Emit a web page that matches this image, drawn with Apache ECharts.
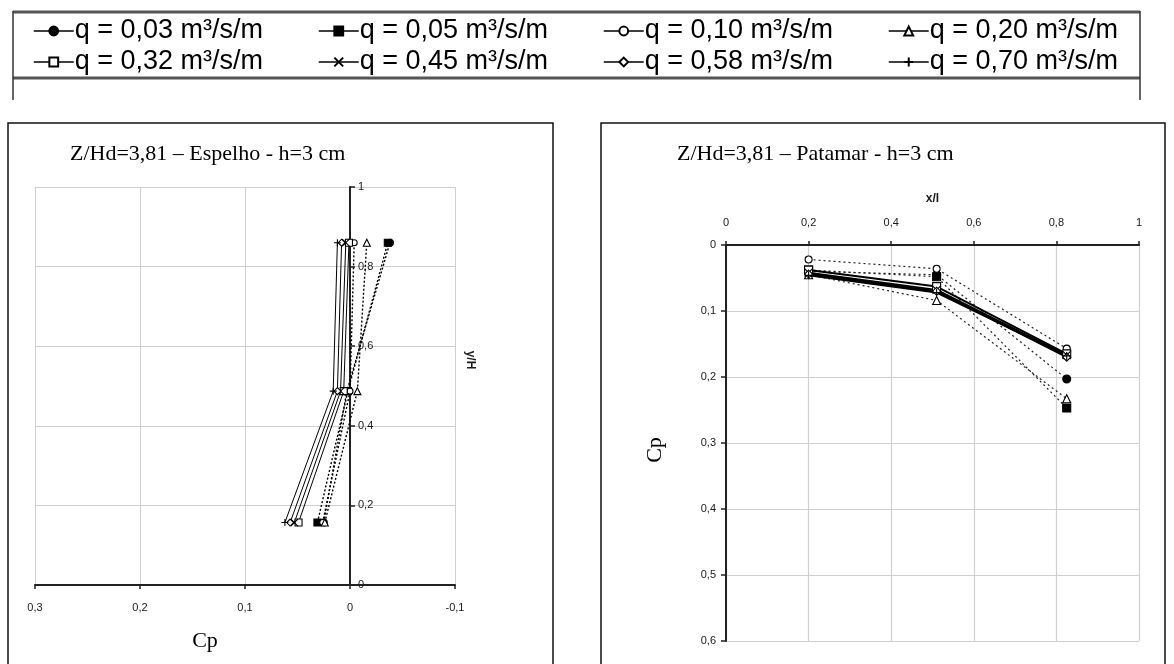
<!DOCTYPE html>
<html>
<head>
<meta charset="utf-8">
<script src="https://cdn.jsdelivr.net/npm/echarts@6/dist/echarts.min.js"></script>
<style>
  html, body { margin: 0; padding: 0; background: #fff; }
  #c { width: 1174px; height: 664px; }
</style>
</head>
<body>
<div id="c"></div>
<script>
// Discharge cases (legend order)
const qLabels = [
  'q = 0,03 m³/s/m', 'q = 0,05 m³/s/m', 'q = 0,10 m³/s/m', 'q = 0,20 m³/s/m',
  'q = 0,32 m³/s/m', 'q = 0,45 m³/s/m', 'q = 0,58 m³/s/m', 'q = 0,70 m³/s/m'
];

// Espelho (riser): relative height y/H of the taps and Cp per discharge
const espelhoY = [0.157, 0.487, 0.86];
const espelhoCp = [
  [0.025, 0.003, -0.038],
  [0.031, 0.002, -0.036],
  [0.026, 0.000, -0.004],
  [0.024, -0.007, -0.016],
  [0.049, 0.006, 0.001],
  [0.053, 0.009, 0.004],
  [0.057, 0.012, 0.008],
  [0.062, 0.016, 0.012]
];

// Patamar (tread): relative position x/l of the taps and Cp per discharge
const patamarX = [0.2, 0.51, 0.825];
const patamarCp = [
  [0.040, 0.045, 0.203],
  [0.038, 0.048, 0.247],
  [0.022, 0.036, 0.157],
  [0.045, 0.084, 0.233],
  [0.038, 0.063, 0.165],
  [0.042, 0.068, 0.167],
  [0.044, 0.070, 0.170],
  [0.046, 0.072, 0.168]
];

// Axis ticks
const espelhoXTicks = [-0.1, 0, 0.1, 0.2, 0.3];
const espelhoYTicks = [0, 0.2, 0.4, 0.6, 0.8, 1];
const patamarXTicks = [0, 0.2, 0.4, 0.6, 0.8, 1];
const patamarYTicks = [0, 0.1, 0.2, 0.3, 0.4, 0.5, 0.6];

// Marker shapes, one per discharge
const crossPath = 'path://M0,0L10,10M10,0L0,10';
const plusPath = 'path://M5,0L5,10M0,5L10,5';
const markers = [
  { symbol: 'circle', fill: '#000' },
  { symbol: 'rect', fill: '#000' },
  { symbol: 'circle', fill: '#fff' },
  { symbol: 'triangle', fill: '#fff' },
  { symbol: 'rect', fill: '#fff' },
  { symbol: crossPath, fill: '#000' },
  { symbol: 'diamond', fill: '#fff' },
  { symbol: plusPath, fill: '#000' }
];

const comma = v => String(+(+v).toFixed(2)).replace('.', ',');
const axisFont = { fontFamily: 'Liberation Sans, Arial, sans-serif', fontSize: 11, color: '#1a1a1a' };
const gridGray = '#cfcfcf';

// Espelho plot area; the y axis is drawn where Cp = 0
const espGrid = { left: 35, top: 187, width: 420, height: 398 };
const xMinE = espelhoXTicks[0], xMaxE = espelhoXTicks[espelhoXTicks.length - 1];
const espYAxisOffset = -espGrid.width * (xMaxE - 0) / (xMaxE - xMinE);

const series = [];
qLabels.forEach((name, i) => {
  const m = markers[i];
  const dotted = i < 4;
  const common = {
    name,
    type: 'line',
    symbol: m.symbol,
    symbolKeepAspect: true,
    itemStyle: { color: m.fill, borderColor: '#000', borderWidth: 1.1 },
    emphasis: { disabled: true },
    animation: false,
    z: dotted ? 3 : 4
  };
  series.push(Object.assign({}, common, {
    xAxisIndex: 0, yAxisIndex: 0,
    symbolSize: m.symbol === 'circle' && m.fill === '#fff' ? 6 : 7,
    lineStyle: { color: '#000', width: dotted ? 1.4 : 1, type: dotted ? [2, 2] : 'solid' },
    data: espelhoCp[i].map((v, k) => [v, espelhoY[k]])
  }));
  series.push(Object.assign({}, common, {
    xAxisIndex: 1, yAxisIndex: 1,
    symbolSize: m.symbol === 'circle' && m.fill === '#fff' ? 7 : 8,
    lineStyle: { color: dotted ? '#222' : '#000', width: dotted ? 1.2 : 2, type: dotted ? [2, 3] : 'solid' },
    data: patamarX.map((x, k) => [x, patamarCp[i][k]])
  }));
});

// One legend block per discharge, four per row
const legendCols = [28, 313, 598, 883];
const legendRows = [12, 43];
const legends = qLabels.map((name, i) => ({
  data: [name],
  left: legendCols[i % 4],
  top: legendRows[Math.floor(i / 4)],
  orient: 'horizontal',
  itemWidth: 40,
  itemHeight: 11,
  itemGap: 0,
  selectedMode: false,
  lineStyle: { type: 'solid', width: 1.5, color: '#000' },
  textStyle: {
    fontFamily: 'Liberation Sans, Arial, sans-serif',
    fontSize: 27, lineHeight: 28, color: '#000', padding: [0, 0, 0, -4]
  }
}));

const chart = echarts.init(document.getElementById('c'), null, { renderer: 'canvas' });
chart.setOption({
  backgroundColor: '#fff',
  animation: false,
  legend: legends,
  grid: [
    espGrid,
    { left: 726, top: 245, width: 413, height: 396 }
  ],
  xAxis: [
    {
      gridIndex: 0, type: 'value', inverse: true,
      min: xMinE, max: xMaxE, interval: 0.1,
      position: 'bottom',
      axisLine: { onZero: false, lineStyle: { color: '#222', width: 2 } },
      axisTick: { show: true, length: 4, lineStyle: { color: '#222', width: 1.5 } },
      axisLabel: Object.assign({ margin: 17, formatter: comma }, axisFont),
      splitLine: { show: true, lineStyle: { color: gridGray, width: 1 } }
    },
    {
      gridIndex: 1, type: 'value', position: 'top',
      min: patamarXTicks[0], max: patamarXTicks[patamarXTicks.length - 1], interval: 0.2,
      axisLine: { onZero: false, lineStyle: { color: '#222', width: 2 } },
      axisTick: { show: true, length: 4, lineStyle: { color: '#222', width: 1.5 } },
      axisLabel: Object.assign({ margin: 17, formatter: comma }, axisFont),
      splitLine: { show: true, lineStyle: { color: gridGray, width: 1.2 } },
      name: 'x/l', nameLocation: 'middle', nameGap: 40,
      nameTextStyle: { fontFamily: 'Liberation Sans, Arial, sans-serif', fontSize: 12, fontWeight: 'bold', color: '#1a1a1a' }
    }
  ],
  yAxis: [
    {
      gridIndex: 0, type: 'value', position: 'left', offset: espYAxisOffset,
      min: espelhoYTicks[0], max: espelhoYTicks[espelhoYTicks.length - 1], interval: 0.2,
      axisLine: { onZero: false, lineStyle: { color: '#222', width: 2 } },
      axisTick: { show: true, inside: true, length: 5, lineStyle: { color: '#222', width: 1.5 } },
      axisLabel: Object.assign({ inside: true, margin: 8, formatter: comma }, axisFont),
      splitLine: { show: true, lineStyle: { color: gridGray, width: 1 } }
    },
    {
      gridIndex: 1, type: 'value', inverse: true,
      min: patamarYTicks[0], max: patamarYTicks[patamarYTicks.length - 1], interval: 0.1,
      axisLine: { onZero: false, lineStyle: { color: '#222', width: 2 } },
      axisTick: { show: true, length: 5, lineStyle: { color: '#222', width: 1.5 } },
      axisLabel: Object.assign({ margin: 10, formatter: comma }, axisFont),
      splitLine: { show: true, lineStyle: { color: gridGray, width: 1.2 } }
    }
  ],
  series,
  graphic: [
    // legend frame
    { type: 'line', shape: { x1: 13, y1: 12, x2: 1140, y2: 12 }, style: { stroke: '#555', lineWidth: 3 } },
    { type: 'line', shape: { x1: 13, y1: 78, x2: 1140, y2: 78 }, style: { stroke: '#555', lineWidth: 3 } },
    { type: 'line', shape: { x1: 13, y1: 11, x2: 13, y2: 100 }, style: { stroke: '#333', lineWidth: 1.5 } },
    { type: 'line', shape: { x1: 1140, y1: 11, x2: 1140, y2: 100 }, style: { stroke: '#333', lineWidth: 1.5 } },
    // panel frames
    { type: 'rect', shape: { x: 8, y: 123, width: 545, height: 560 }, style: { fill: 'none', stroke: '#111', lineWidth: 1.5 }, z: -1 },
    { type: 'rect', shape: { x: 601, y: 123, width: 564, height: 560 }, style: { fill: 'none', stroke: '#111', lineWidth: 1.5 }, z: -1 },
    // panel titles
    { type: 'text', left: 70, top: 143, style: { text: 'Z/Hd=3,81 – Espelho - h=3 cm', font: '22px "Liberation Serif", "Times New Roman", serif', fill: '#000' } },
    { type: 'text', left: 677, top: 143, style: { text: 'Z/Hd=3,81 – Patamar - h=3 cm', font: '22px "Liberation Serif", "Times New Roman", serif', fill: '#000' } },
    // axis titles
    { type: 'text', x: 205, y: 641, style: { text: 'Cp', font: '22px "Liberation Serif", "Times New Roman", serif', fill: '#000', align: 'center', verticalAlign: 'middle' } },
    { type: 'text', x: 470, y: 360, rotation: -Math.PI / 2, style: { text: 'y/H', font: 'bold 12px "Liberation Sans", Arial, sans-serif', fill: '#1a1a1a', align: 'center', verticalAlign: 'middle' } },
    { type: 'text', x: 655, y: 450, rotation: Math.PI / 2, style: { text: 'Cp', font: '22px "Liberation Serif", "Times New Roman", serif', fill: '#000', align: 'center', verticalAlign: 'middle' } }
  ]
});
</script>
</body>
</html>
